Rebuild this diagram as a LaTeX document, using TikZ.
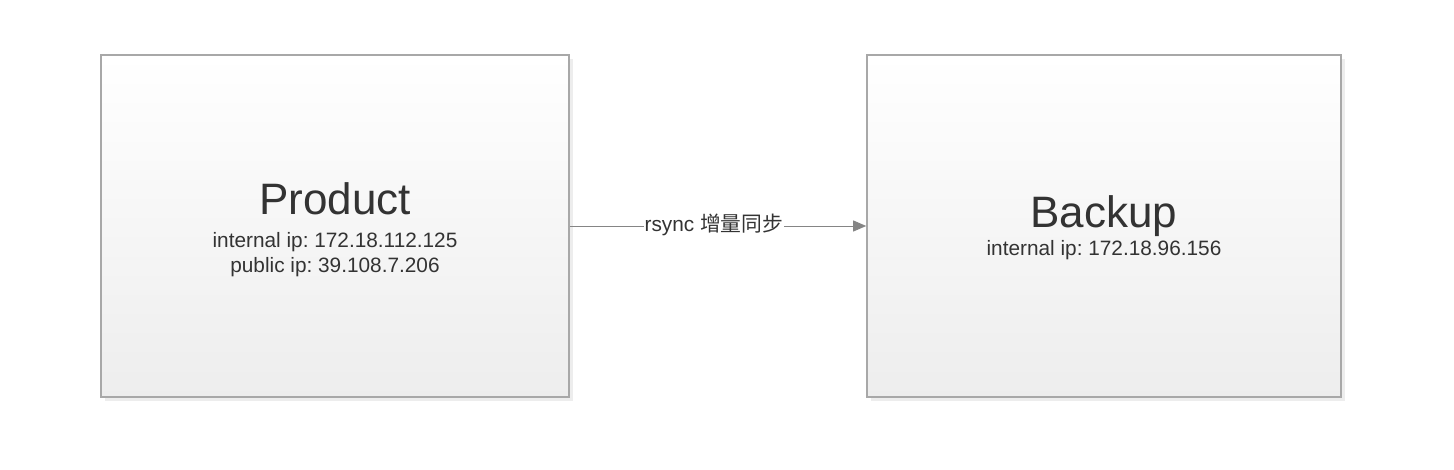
\documentclass[tikz,border=0pt]{standalone}
\usepackage{fontspec}
\setmainfont{Liberation Sans}
\newfontfamily\cjk{Noto Sans CJK SC}
\usetikzlibrary{arrows.meta,shadows}
\definecolor{bordergray}{HTML}{A8A8A8}
\definecolor{txt}{HTML}{333333}
\definecolor{linegray}{HTML}{858585}
\frenchspacing
\tikzset{
  serverbox/.style={draw=bordergray, line width=1.6pt, top color=white, bottom color=black!7,
    minimum height=342pt, inner sep=0pt,
    drop shadow={shadow xshift=4pt, shadow yshift=-4pt, fill=black!7, opacity=1}},
  boxtext/.style={align=center, text=txt, inner sep=0pt, font=\fontsize{20.8}{25}\selectfont},
  flow/.style={draw=linegray, line width=0.9pt, -{Triangle[length=13pt,width=11pt]}},
  flowlabel/.style={fill=white, inner sep=1pt, text=txt, font=\fontsize{20.8}{24}\selectfont}
}
\newcommand{\boxtitle}[1]{{\fontsize{44}{50}\selectfont #1}}
\begin{document}
\begin{tikzpicture}[x=1pt,y=-1pt]
\useasboundingbox[fill=white] (0,0) rectangle (1454,470);
\node[serverbox, minimum width=468pt] (prod) at (335,226) {};
\node[serverbox, minimum width=474pt] (back) at (1104,226) {};
\node[boxtext] (prodtext) at ([yshift=-4pt]prod.center) {\boxtitle{Product}\\[8pt]
internal ip: 172.18.112.125\\ public ip: 39.108.7.206};
\node[boxtext] (backtext) at ([yshift=-2pt]back.center) {\boxtitle{Backup}\\[3pt]
internal ip: 172.18.96.156};
\draw[flow] (prod.east) -- (back.west) node[flowlabel, midway, xshift=-4pt, yshift=1pt] {rsync {\cjk 增量同步}};
\end{tikzpicture}
\end{document}
